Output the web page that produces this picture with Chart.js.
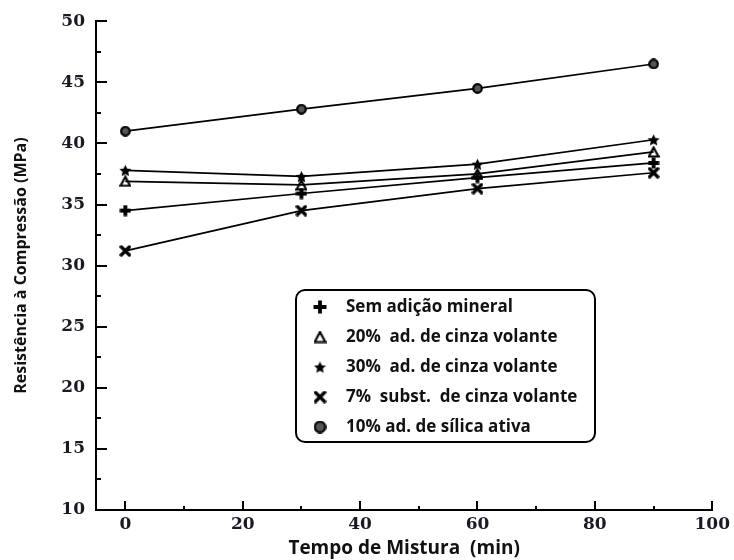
<!DOCTYPE html>
<html>
<head>
<meta charset="utf-8">
<script src="https://cdn.jsdelivr.net/npm/chart.js@4/dist/chart.umd.min.js"></script>
<style>
  html, body { margin: 0; padding: 0; background: #fff; }
</style>
</head>
<body>
<canvas id="chart" width="734" height="560"></canvas>
<script>
// ===== DATA =====
const tempos = [0, 30, 60, 90];
const semAdicao = [34.5, 35.9, 37.2, 38.4];
const cinza20 = [36.9, 36.6, 37.5, 39.3];
const cinza30 = [37.8, 37.3, 38.3, 40.3];
const subst7 = [31.2, 34.5, 36.3, 37.6];
const silica10 = [41.0, 42.8, 44.5, 46.5];

const seriesLabels = [
  'Sem adição mineral',
  '20%  ad. de cinza volante',
  '30%  ad. de cinza volante',
  '7%  subst.  de cinza volante',
  '10% ad. de sílica ativa'
];
const xTicks = [0, 20, 40, 60, 80, 100];
const xMinorTicks = [10, 30, 50, 70, 90];
const yTicks = [10, 15, 20, 25, 30, 35, 40, 45, 50];
const yMinorTicks = [12.5, 17.5, 22.5, 27.5, 32.5, 37.5, 42.5, 47.5];

// ===== MARKERS =====
function makeMarker(kind, s) {
  const c = document.createElement('canvas');
  c.width = s; c.height = s;
  const g = c.getContext('2d');
  const m = s / 2;
  g.strokeStyle = '#000';
  g.fillStyle = '#000';
  if (kind === 'plus') {
    g.lineWidth = 3.8;
    g.beginPath();
    g.moveTo(0.5, m); g.lineTo(s - 0.5, m);
    g.moveTo(m, 0.5); g.lineTo(m, s - 0.5);
    g.stroke();
  } else if (kind === 'triangle') {
    g.lineWidth = 2.2;
    g.beginPath();
    g.moveTo(m, 1.5);
    g.lineTo(s - 1.2, s - 1.5);
    g.lineTo(1.2, s - 1.5);
    g.closePath();
    g.stroke();
  } else if (kind === 'star') {
    const ro = m - 0.2, ri = ro * 0.47;
    g.beginPath();
    for (let i = 0; i < 10; i++) {
      const r = i % 2 ? ri : ro;
      const a = -Math.PI / 2 + i * Math.PI / 5;
      const px = m + r * Math.cos(a), py = m + 0.7 + r * Math.sin(a);
      i ? g.lineTo(px, py) : g.moveTo(px, py);
    }
    g.closePath();
    g.fill();
  } else if (kind === 'cross') {
    g.lineWidth = 3.4;
    g.lineCap = 'round';
    g.beginPath();
    g.moveTo(2, 2); g.lineTo(s - 2, s - 2);
    g.moveTo(s - 2, 2); g.lineTo(2, s - 2);
    g.stroke();
  } else {
    g.lineWidth = 2.2;
    g.fillStyle = '#555';
    g.beginPath();
    g.arc(m, m, m - 1.2, 0, Math.PI * 2);
    g.fill();
    g.stroke();
  }
  return c;
}

const kinds = ['plus', 'triangle', 'star', 'cross', 'circle'];
const plotSizes = [12, 12, 13, 12, 11];
const legendSizes = [14, 13, 13, 13, 13];
const plotMarkers = kinds.map((k, i) => makeMarker(k, plotSizes[i]));
const legendMarkers = kinds.map((k, i) => makeMarker(k, legendSizes[i]));

const allSeries = [semAdicao, cinza20, cinza30, subst7, silica10];

// ===== TICKS + LEGEND PLUGIN =====
const inwardTicks = {
  id: 'inwardTicks',
  afterDraw(chart) {
    const { ctx, scales: { x, y }, chartArea } = chart;
    ctx.save();
    ctx.strokeStyle = '#000';
    ctx.lineWidth = 2;
    ctx.beginPath();
    yTicks.forEach(v => {
      const py = Math.round(y.getPixelForValue(v));
      ctx.moveTo(chartArea.left, py); ctx.lineTo(chartArea.left + 11, py);
    });
    yMinorTicks.forEach(v => {
      const py = Math.round(y.getPixelForValue(v));
      ctx.moveTo(chartArea.left, py); ctx.lineTo(chartArea.left + 5, py);
    });
    xTicks.forEach(v => {
      const px = Math.round(x.getPixelForValue(v));
      ctx.moveTo(px, chartArea.bottom); ctx.lineTo(px, chartArea.bottom - 9);
    });
    xMinorTicks.forEach(v => {
      const px = Math.round(x.getPixelForValue(v));
      ctx.moveTo(px, chartArea.bottom); ctx.lineTo(px, chartArea.bottom - 4);
    });
    ctx.stroke();

    // legend box
    const bx = chartArea.left + 200, by = 290, bw = 299, bh = 152;
    ctx.lineWidth = 2;
    ctx.fillStyle = '#fff';
    ctx.beginPath();
    ctx.roundRect(bx, by, bw, bh, 9);
    ctx.fill();
    ctx.stroke();
    ctx.fillStyle = '#111';
    ctx.font = 'bold 17px "Open Sans"';
    ctx.textBaseline = 'middle';
    ctx.textAlign = 'left';
    seriesLabels.forEach((lab, i) => {
      const cy = by + 17 + i * 30;
      const mk = legendMarkers[i];
      ctx.drawImage(mk, bx + 24 - mk.width / 2, cy - mk.height / 2);
      ctx.fillText(lab, bx + 50, cy);
    });
    ctx.restore();
  }
};

// ===== CHART =====
const ctx = document.getElementById('chart').getContext('2d');
new Chart(ctx, {
  type: 'line',
  data: {
    datasets: allSeries.map((vals, i) => ({
      label: seriesLabels[i],
      data: tempos.map((t, j) => ({ x: t, y: vals[j] })),
      borderColor: '#000',
      borderWidth: 1.7,
      pointStyle: plotMarkers[i],
      pointRadius: 5,
      tension: 0
    }))
  },
  options: {
    responsive: false,
    animation: false,
    layout: { padding: { top: 20, right: 20, left: 0, bottom: 0 } },
    plugins: { legend: { display: false }, tooltip: { enabled: false } },
    scales: {
      x: {
        type: 'linear',
        min: -5,
        max: 100,
        afterBuildTicks: s => { s.ticks = xTicks.map(v => ({ value: v })); },
        afterFit: s => { s.height = 50; },
        grid: { display: false, drawTicks: false },
        border: { color: '#000', width: 2 },
        ticks: { font: { family: 'DejaVu Serif', size: 17, weight: 'bold' }, color: '#1a1a24', padding: 4, maxRotation: 0 },
        title: {
          display: true,
          text: 'Tempo de Mistura  (min)',
          font: { family: 'Open Sans', size: 19, weight: 'bold' },
          color: '#111',
          padding: { top: 0, bottom: 0 }
        }
      },
      y: {
        min: 10,
        max: 50,
        afterBuildTicks: s => { s.ticks = yTicks.map(v => ({ value: v })); },
        afterFit: s => { s.width = 96; },
        grid: { display: false, drawTicks: false },
        border: { color: '#000', width: 2 },
        ticks: { font: { family: 'DejaVu Serif', size: 17, weight: 'bold' }, color: '#1a1a24', padding: 11 },
        title: {
          display: true,
          text: 'Resistência à Compressão (MPa)',
          font: { family: 'Open Sans', size: 16, weight: 'bold' },
          color: '#111',
          padding: { top: 12, bottom: 0 }
        }
      }
    }
  },
  plugins: [inwardTicks]
});
</script>
</body>
</html>
